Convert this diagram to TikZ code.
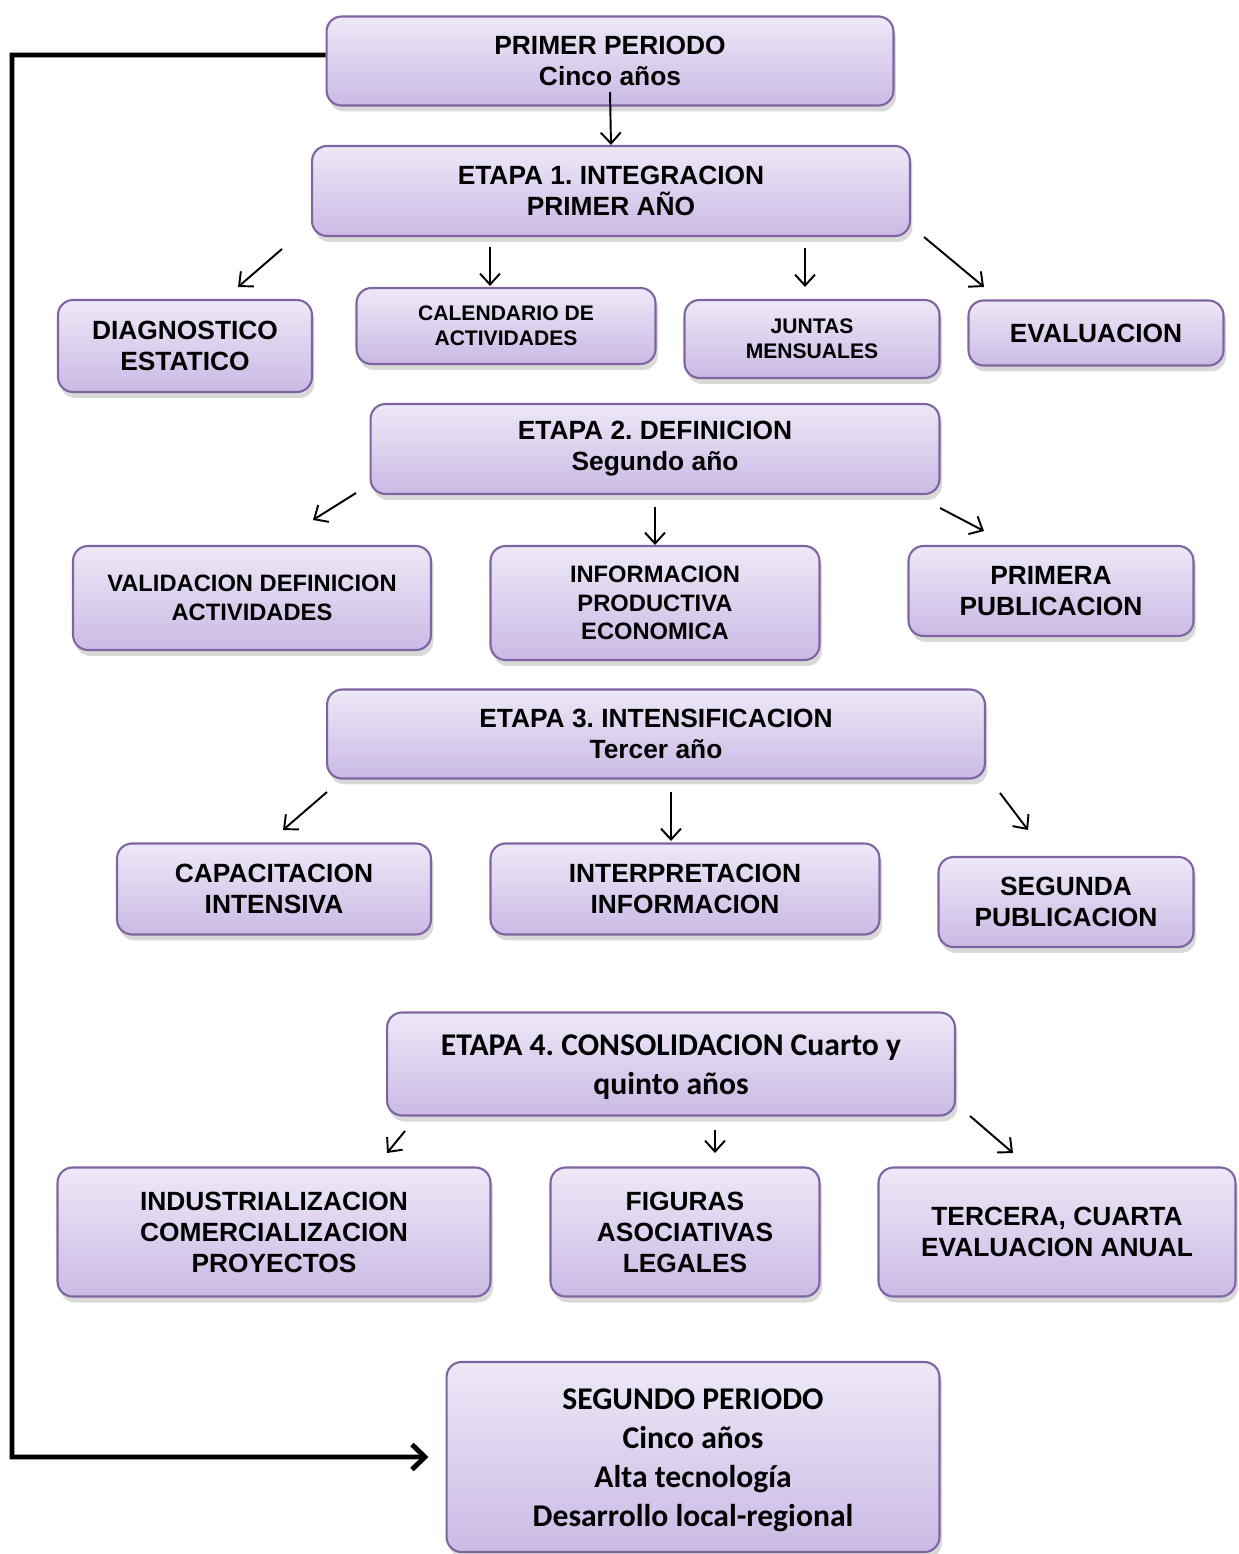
\documentclass[tikz,border=0pt]{standalone}
\usepackage{fontspec}
\setmainfont{Liberation Sans}
\newfontfamily\calibri{Carlito}
\usetikzlibrary{arrows.meta,shadows}
\definecolor{lilaclaro}{RGB}{238,232,247}
\definecolor{lilaoscuro}{RGB}{202,186,229}
\definecolor{lilaborde}{RGB}{128,100,162}
\frenchspacing

\begin{document}
\begin{tikzpicture}[x=0.02cm,y=-0.02cm,
  caja/.style={draw=lilaborde,line width=1.2pt,rounded corners=0.3cm,top color=lilaclaro,bottom color=lilaoscuro,
    align=center,inner sep=0pt,font=\fontsize{15}{17.6}\selectfont\bfseries,
    drop shadow={shadow xshift=0.5mm,shadow yshift=-1.2mm,opacity=0.3}},
  chica/.style={font=\fontsize{12}{14.2}\selectfont\bfseries},
  media/.style={font=\fontsize{13.5}{16.2}\selectfont\bfseries},
  cal/.style={font=\calibri\fontsize{18}{22.1}\selectfont\bfseries},
  flecha/.style={line width=1.1pt,-{Straight Barb[length=2.2mm,width=4mm]}}]
				\useasboundingbox (0,0) rectangle (1238,1554);
				\node[caja,minimum width=11.34cm,minimum height=1.78cm] (pp) at (610,61) {PRIMER PERIODO\\Cinco años};
				\node[caja,minimum width=11.96cm,minimum height=1.80cm] (e1) at (611,191) {ETAPA 1. INTEGRACION\\PRIMER AÑO};
				\node[caja,minimum width=5.08cm,minimum height=1.84cm] (diag) at (185,346) {DIAGNOSTICO\\ESTATICO};
				\node[caja,chica,minimum width=5.98cm,minimum height=1.52cm] (cal) at (506,326) {CALENDARIO DE\\ACTIVIDADES};
				\node[caja,chica,minimum width=5.10cm,minimum height=1.56cm] (jun) at (812,339) {JUNTAS\\MENSUALES};
				\node[caja,minimum width=5.10cm,minimum height=1.30cm] (eva) at (1096,333) {EVALUACION};
				\node[caja,minimum width=11.38cm,minimum height=1.80cm] (e2) at (655,449) {ETAPA 2. DEFINICION\\Segundo año};
				\node[caja,media,minimum width=7.16cm,minimum height=2.08cm] (val) at (252,598) {VALIDACION DEFINICION\\ACTIVIDADES};
				\node[caja,media,minimum width=6.58cm,minimum height=2.28cm] (inf) at (655,603) {INFORMACION\\PRODUCTIVA\\ECONOMICA};
				\node[caja,minimum width=5.70cm,minimum height=1.80cm] (pub1) at (1051,591) {PRIMERA\\PUBLICACION};
				\node[caja,minimum width=13.16cm,minimum height=1.78cm] (e3) at (656,734) {ETAPA 3. INTENSIFICACION\\Tercer año};
				\node[caja,minimum width=6.28cm,minimum height=1.82cm] (cap) at (274,889) {CAPACITACION\\INTENSIVA};
				\node[caja,minimum width=7.78cm,minimum height=1.82cm] (int) at (685,889) {INTERPRETACION\\INFORMACION};
				\node[caja,minimum width=5.10cm,minimum height=1.80cm] (pub2) at (1066,902) {SEGUNDA\\PUBLICACION};
				\node[caja,cal,minimum width=11.36cm,minimum height=2.06cm] (e4) at (671,1064) {\strut ETAPA 4. CONSOLIDACION Cuarto y\\quinto años};
				\node[caja,minimum width=8.66cm,minimum height=2.58cm] (ind) at (274,1232) {INDUSTRIALIZACION\\COMERCIALIZACION\\PROYECTOS};
				\node[caja,minimum width=5.38cm,minimum height=2.58cm] (fig) at (685,1232) {FIGURAS\\ASOCIATIVAS\\LEGALES};
				\node[caja,minimum width=7.14cm,minimum height=2.58cm] (ter) at (1057,1232) {TERCERA, CUARTA\\EVALUACION ANUAL};
				\node[caja,cal,minimum width=9.86cm,minimum height=3.80cm] (sp) at (693,1457) {\strut SEGUNDO PERIODO\\Cinco años\\Alta tecnología\\Desarrollo local-regional};
				\coordinate (p1) at (610,92);
				\coordinate (a1) at (282,249);
				\coordinate (b1) at (238,287);
				\coordinate (a2) at (490,247);
				\coordinate (b2) at (490,286);
				\coordinate (a3) at (805,248);
				\coordinate (b3) at (805,287);
				\coordinate (a4) at (924,237);
				\coordinate (b4) at (984,287);
				\coordinate (c1) at (356,493);
				\coordinate (d1) at (313,520);
				\coordinate (c2) at (655,507);
				\coordinate (d2) at (655,545);
				\coordinate (c3) at (940,508);
				\coordinate (d3) at (984,531);
				\coordinate (f1) at (327,792);
				\coordinate (g1) at (283,830);
				\coordinate (f2) at (671,792);
				\coordinate (g2) at (671,841);
				\coordinate (f3) at (1000,793);
				\coordinate (g3) at (1028,830);
				\coordinate (h1) at (405,1131);
				\coordinate (k1) at (387,1153);
				\coordinate (h2) at (715,1130);
				\coordinate (k2) at (715,1153);
				\coordinate (h3) at (970,1116);
				\coordinate (k3) at (1013,1153);
				\draw[flecha] (p1) -- (e1.north);
				\draw[flecha] (a1) -- (b1);
				\draw[flecha] (a2) -- (b2);
				\draw[flecha] (a3) -- (b3);
				\draw[flecha] (a4) -- (b4);
				\draw[flecha] (c1) -- (d1);
				\draw[flecha] (c2) -- (d2);
				\draw[flecha] (c3) -- (d3);
				\draw[flecha] (f1) -- (g1);
				\draw[flecha] (f2) -- (g2);
				\draw[flecha] (f3) -- (g3);
				\draw[flecha] (h1) -- (k1);
				\draw[flecha] (h2) -- (k2);
				\draw[flecha] (h3) -- (k3);
				\draw[line width=2.8pt,shorten >=0.34cm,-{Straight Barb[length=2.6mm,width=5mm]}] ([yshift=0.12cm]pp.west) -- (12,55) |- (sp.west);
			\end{tikzpicture}
\end{document}
